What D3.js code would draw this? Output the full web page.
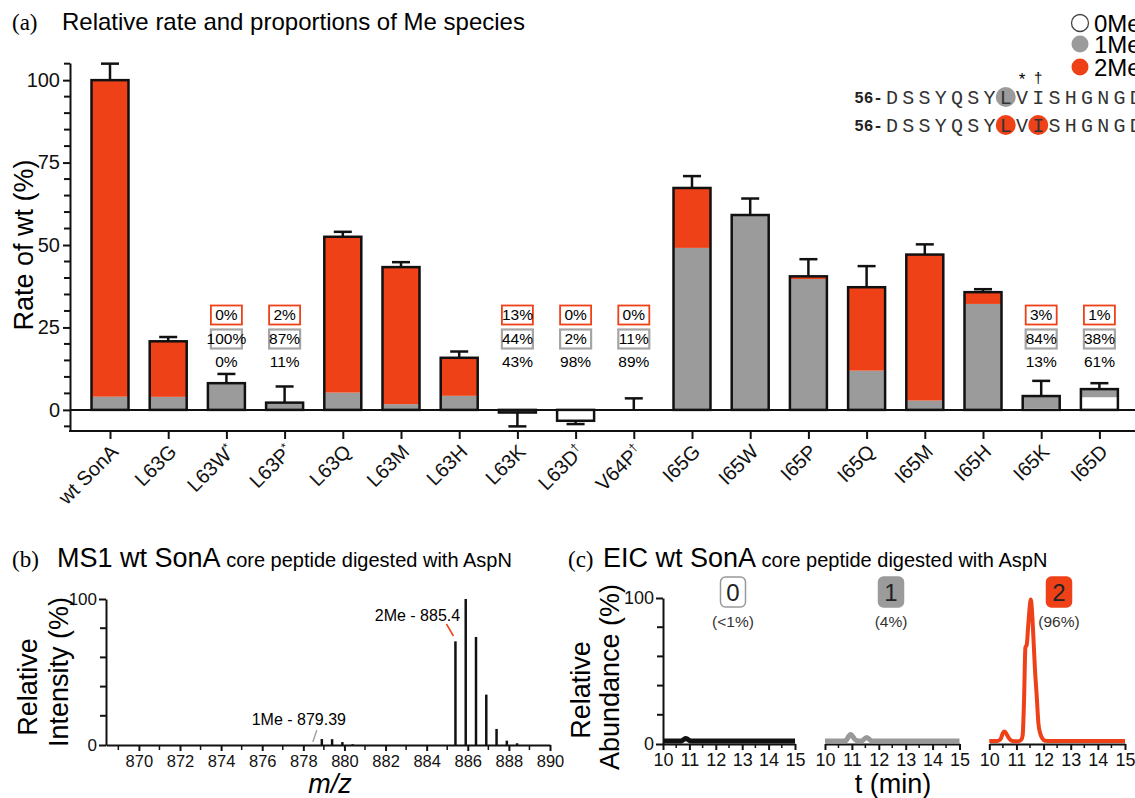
<!DOCTYPE html>
<html lang="en">
<head>
<meta charset="utf-8">
<title>Relative rate and proportions of Me species</title>
<style>
  body { margin: 0; background: #fff; }
  svg { display: block; font-family: "Liberation Sans", Arial, sans-serif; }
  .serif { font-family: "Liberation Serif", "Times New Roman", serif; }
  .axis path, .axis line { stroke: #111; stroke-width: 2; }
  .axis text { fill: #111; }
</style>
<script src="https://cdn.jsdelivr.net/npm/d3@7"></script>
</head>
<body>
<svg id="fig" width="1135" height="798"></svg>
<script>
// ---------- panel (a) data ----------
var mutants = ["wt SonA","L63G","L63W*","L63P*","L63Q","L63M","L63H","L63K","L63D†","V64P†",
               "I65G","I65W","I65P","I65Q","I65M","I65H","I65K","I65D"];
// rate of wt (%), bar height
var rate    = [100, 20.8, 8.1, 2.2, 52.5, 43.3, 15.8, -0.8, -3.3, 0, 67.3, 59.1, 40.5, 37.2, 47.1, 35.7, 4.2, 6.3];
// end of the error bar (%)
var rateErr = [105, 22.1, 10.9, 7.1, 54.0, 44.8, 17.7, -5.0, -4.3, 3.5, 70.9, 64.1, 45.7, 43.6, 50.2, 36.6, 8.8, 8.1];
// proportions of each species (%)
var pct0Me = [0, 0, 0, 11, 0, 0, 0, 43, 98, 89, 0, 0, 0, 0, 0, 0, 13, 61];
var pct1Me = [4, 19, 100, 87, 10, 4, 27, 44, 2, 11, 73, 100, 98, 32, 6, 90, 84, 38];
var pct2Me = [96, 81, 0, 2, 90, 96, 73, 13, 0, 0, 27, 0, 2, 68, 94, 10, 3, 1];
// mutants with the printed proportions
var labelled = ["L63W*","L63P*","L63K","L63D†","V64P†","I65K","I65D"];

var legendNames = ["0Me","1Me","2Me"];
var seqPrefix = "56-";
var seqLetters = "DSSYQSYLVISHGNGD";

// ---------- panel (b) data ----------
var mzPeaks     = [878.9, 879.4, 879.9, 880.4, 885.4, 885.9, 886.4, 886.9, 887.4, 887.9, 888.4];
var mzIntensity = [4.1, 4.0, 2.0, 0.5, 71, 100, 74, 34.5, 11, 3, 1.2];

// ---------- panel (c) data ----------
var eic0Me = [[10,2],[10.7,2],[10.78,3],[10.86,3.8],[10.95,3],[11.05,2],[15,2]];
var eic1Me = [[10,2],[10.75,2],[10.95,6.5],[11.15,2.5],[11.35,2],[11.55,4.5],[11.75,2],[15,2]];
var eic2Me = [[10,2],[10.3,2],[10.42,3.5],[10.5,7.5],[10.56,8.5],[10.63,7],[10.72,4],[10.85,2],
              [11.05,1.8],[11.18,3],[11.23,6],[11.28,30],[11.33,66],[11.38,68],[11.43,80],[11.48,92],
              [11.53,99],[11.57,92],[11.62,75],[11.68,52],[11.75,32],[11.81,14],[11.88,7],[11.95,4],
              [12.05,2.3],[12.3,2],[15,2]];
var eicShare = ["(<1%)","(4%)","(96%)"];

var red = "#ef4118", grey = "#9b9b9b", ink = "#111";
var speciesFill = ["#fff", grey, red];

var svg = d3.select("#fig");

// ================= panel (a) =================
var gA = svg.append("g");
var ya = d3.scaleLinear().domain([-6.1, 105.2]).range([430, 63]);
var xa = d3.scalePoint().domain(mutants).range([110, 1099.4]);
var barW = 37;

gA.append("text").attr("class","serif").attr("x",12).attr("y",30).attr("font-size",23).text("(a)");
gA.append("text").attr("x",62).attr("y",30).attr("font-size",24).text("Relative rate and proportions of Me species");

// zero line across the plot
gA.append("line").attr("x1",70).attr("x2",1135).attr("y1",ya(0)).attr("y2",ya(0))
  .attr("stroke",ink).attr("stroke-width",2);

var rows = mutants.map(function(m, i){
  return {name: m, rate: rate[i], err: rateErr[i], p: [pct0Me[i], pct1Me[i], pct2Me[i]]};
});

// stacked segments, 0Me at the bottom, then 1Me, then 2Me
rows.forEach(function(d){
  var tot = d.p[0] + d.p[1] + d.p[2], acc = 0;
  d.p.forEach(function(p, k){
    var a = d.rate * acc / tot, b = d.rate * (acc + p) / tot;
    acc += p;
    if (p <= 0) return;
    gA.append("rect")
      .attr("x", xa(d.name) - barW/2).attr("width", barW)
      .attr("y", ya(Math.max(a,b))).attr("height", Math.abs(ya(a) - ya(b)))
      .attr("fill", speciesFill[k]);
  });
});

// error bars
var errG = gA.selectAll(".err").data(rows).enter().append("g").attr("class","err")
  .attr("stroke", ink).attr("stroke-width", 2.5);
errG.append("line")
  .attr("x1", d => xa(d.name)).attr("x2", d => xa(d.name))
  .attr("y1", d => ya(d.rate)).attr("y2", d => ya(d.err));
errG.append("line")
  .attr("x1", d => xa(d.name) - 9).attr("x2", d => xa(d.name) + 9)
  .attr("y1", d => ya(d.err)).attr("y2", d => ya(d.err));

// bar outlines
gA.selectAll(".bar").data(rows.filter(d => Math.abs(d.rate) > 0.05)).enter().append("rect")
  .attr("class","bar")
  .attr("x", d => xa(d.name) - barW/2).attr("width", barW)
  .attr("y", d => ya(Math.max(0, d.rate))).attr("height", d => Math.abs(ya(0) - ya(d.rate)))
  .attr("fill","none").attr("stroke", ink).attr("stroke-width", 2.5);

// printed proportions
var lab = gA.selectAll(".lab").data(rows.filter(d => labelled.indexOf(d.name) >= 0)).enter()
  .append("g").attr("class","lab").attr("transform", d => "translate(" + xa(d.name) + ",0)");
lab.append("rect").attr("x",-15.5).attr("y",305.5).attr("width",31).attr("height",19)
  .attr("fill","#fff").attr("stroke",red).attr("stroke-width",1.8);
lab.append("rect").attr("x",-15.5).attr("y",329.5).attr("width",31).attr("height",19)
  .attr("fill","#fff").attr("stroke","#a5a5a5").attr("stroke-width",2.2);
lab.append("text").attr("y",315).attr("dy","0.35em").attr("text-anchor","middle").attr("font-size",15.5)
  .text(d => d.p[2] + "%");
lab.append("text").attr("y",339).attr("dy","0.35em").attr("text-anchor","middle").attr("font-size",15.5)
  .text(d => d.p[1] + "%");
lab.append("text").attr("y",362).attr("dy","0.35em").attr("text-anchor","middle").attr("font-size",15.5)
  .text(d => d.p[0] + "%");

// y axis
var yAxA = gA.append("g").attr("class","axis").attr("transform","translate(70,0)")
  .call(d3.axisLeft(ya).tickValues([0,25,50,75,100]).tickSize(7).tickSizeOuter(0).tickPadding(3));
yAxA.selectAll("text").attr("font-size",20);
gA.selectAll(".minorA").data(d3.range(-5, 106, 5).filter(v => v % 25 !== 0)).enter().append("line")
  .attr("x1",64).attr("x2",70).attr("y1", d => ya(d)).attr("y2", d => ya(d))
  .attr("stroke",ink).attr("stroke-width",2);
gA.append("text").attr("transform","translate(33,245) rotate(-90)").attr("text-anchor","middle")
  .attr("font-size",27).text("Rate of wt (%)");

// x axis
var xAxA = gA.append("g").attr("class","axis").attr("transform","translate(0,431)")
  .call(d3.axisBottom(xa).tickSize(8).tickSizeOuter(0));
xAxA.select(".domain").remove();
xAxA.append("line").attr("x1",69).attr("x2",1135).attr("stroke",ink).attr("stroke-width",2);
xAxA.selectAll(".tick text")
  .attr("x", null).attr("y", null).attr("dy","0.35em")
  .attr("transform","translate(4,17) rotate(-45)")
  .style("text-anchor","end").attr("font-size",20)
  .each(function(d){
    var t = d3.select(this).text("");
    var base = d.replace(/[*†]$/, "");
    t.append("tspan").text(base);
    if (base !== d) t.append("tspan").attr("baseline-shift","super").attr("font-size",12).text(d.slice(-1));
  });

// legend
var leg = gA.selectAll(".leg").data(legendNames).enter().append("g").attr("class","leg")
  .attr("transform", (d,i) => "translate(1080," + [23, 44, 67][i] + ")");
leg.append("circle").attr("r",8.5).attr("fill", (d,i) => speciesFill[i])
  .attr("stroke", (d,i) => i === 0 ? "#444" : "none").attr("stroke-width",1.3);
leg.append("text").attr("x",14).attr("dy","0.36em").attr("font-size",24).text(d => d);

// peptide sequence
var seqX = k => 892 + k * 16.25;
[{y: 97, marks: [[7, grey]]}, {y: 125, marks: [[7, red], [9, red]]}].forEach(function(row){
  row.marks.forEach(function(m){
    gA.append("circle").attr("cx", seqX(m[0])).attr("cy", row.y).attr("r", 10).attr("fill", m[1]);
  });
  seqPrefix.split("").forEach(function(c, k){
    gA.append("text").attr("x", 859 + k * 9.5).attr("y", row.y).attr("dy","0.36em")
      .attr("text-anchor","middle").attr("font-size",16).attr("font-weight","bold")
      .attr("font-family","Liberation Mono, monospace").attr("fill","#222").text(c);
  });
  seqLetters.split("").forEach(function(c, k){
    gA.append("text").attr("x", seqX(k)).attr("y", row.y).attr("dy","0.36em")
      .attr("text-anchor","middle").attr("font-size",20)
      .attr("font-family","Liberation Mono, monospace").attr("fill","#333").text(c);
  });
});
gA.append("text").attr("x", seqX(8)).attr("y", 85).attr("text-anchor","middle").attr("font-size",17).text("*");
gA.append("text").attr("x", seqX(9)).attr("y", 83).attr("text-anchor","middle").attr("font-size",15).text("†");

// ================= panel (b) =================
var gB = svg.append("g");
var xb = d3.scaleLinear().domain([868.4, 890]).range([106, 550]);
var yb = d3.scaleLinear().domain([0, 100]).range([745, 599]);

var tB = gB.append("text").attr("x",12).attr("y",567);
tB.append("tspan").attr("class","serif").attr("font-size",23).text("(b)");
tB.append("tspan").attr("x",57).attr("font-size",27).text("MS1 wt SonA");
tB.append("tspan").attr("font-size",20).text(" core peptide digested with AspN");

gB.selectAll(".pk").data(mzPeaks).enter().append("line")
  .attr("x1", d => xb(d)).attr("x2", d => xb(d))
  .attr("y1", yb(0)).attr("y2", (d,i) => yb(mzIntensity[i]))
  .attr("stroke", ink).attr("stroke-width", 2.5);

var yAxB = gB.append("g").attr("class","axis").attr("transform","translate(106,0)")
  .call(d3.axisLeft(yb).tickValues([0,100]).tickSize(7).tickSizeOuter(0).tickPadding(2));
yAxB.selectAll("text").attr("font-size",17);
gB.selectAll(".minorB").data([20,40,60,80]).enter().append("line")
  .attr("x1",100).attr("x2",106).attr("y1", d => yb(d)).attr("y2", d => yb(d))
  .attr("stroke",ink).attr("stroke-width",2);

var xAxB = gB.append("g").attr("class","axis").attr("transform","translate(0,745)")
  .call(d3.axisBottom(xb).tickValues(d3.range(870, 891, 2)).tickSize(6).tickSizeOuter(0).tickPadding(4));
xAxB.selectAll("text").attr("font-size",16.5);
gB.selectAll(".minorBx").data(d3.range(869, 890, 2)).enter().append("line")
  .attr("x1", d => xb(d)).attr("x2", d => xb(d)).attr("y1",745).attr("y2",750)
  .attr("stroke",ink).attr("stroke-width",1.5);

// peak annotations
var p2 = xb(885.4), p1 = xb(878.9);
gB.append("text").attr("x", p2 - 38).attr("y", 615).attr("dy","0.35em").attr("text-anchor","middle")
  .attr("font-size",16).text("2Me - 885.4");
gB.append("line").attr("x1", p2 - 9).attr("y1", 624).attr("x2", p2 - 2).attr("y2", 636)
  .attr("stroke", red).attr("stroke-width", 1.5);
gB.append("text").attr("x", p1 - 23).attr("y", 719).attr("dy","0.35em").attr("text-anchor","middle")
  .attr("font-size",16).text("1Me - 879.39");
gB.append("line").attr("x1", p1 - 5).attr("y1", 730).attr("x2", p1 - 9).attr("y2", 742)
  .attr("stroke", "#999").attr("stroke-width", 1.3);

gB.append("text").attr("transform","translate(28,687) rotate(-90)").attr("text-anchor","middle")
  .attr("dy","0.35em").attr("font-size",27).text("Relative");
gB.append("text").attr("transform","translate(59,672) rotate(-90)").attr("text-anchor","middle")
  .attr("dy","0.35em").attr("font-size",27).text("Intensity (%)");
gB.append("text").attr("x",330).attr("y",793).attr("text-anchor","middle").attr("font-size",27)
  .attr("font-style","italic").text("m/z");

// ================= panel (c) =================
var gC = svg.append("g");
var yc = d3.scaleLinear().domain([0, 100]).range([744, 598]);

var tC = gC.append("text").attr("x",568).attr("y",567);
tC.append("tspan").attr("class","serif").attr("font-size",23).text("(c)");
tC.append("tspan").attr("x",603).attr("font-size",27).text("EIC wt SonA");
tC.append("tspan").attr("font-size",20).text(" core peptide digested with AspN");

var eicPanels = [
  {x0: 663, x1: 795, data: eic0Me, color: ink, w: 5, box: "#fff", boxStroke: "#999"},
  {x0: 825, x1: 959.5, data: eic1Me, color: "#999", w: 5, box: grey, boxStroke: grey},
  {x0: 989.3, x1: 1125, data: eic2Me, color: red, w: 4, box: red, boxStroke: red}
];

eicPanels.forEach(function(p, i){
  var xc = d3.scaleLinear().domain([10, 15]).range([p.x0, p.x1]);
  var xAx = gC.append("g").attr("class","axis").attr("transform","translate(0,744)")
    .call(d3.axisBottom(xc).tickValues(d3.range(10, 16)).tickFormat(d3.format("d"))
      .tickSize(6).tickSizeOuter(0).tickPadding(3));
  xAx.selectAll("text").attr("font-size",18);
  gC.selectAll(".mc" + i).data(d3.range(10.5, 15, 1)).enter().append("line")
    .attr("x1", d => xc(d)).attr("x2", d => xc(d)).attr("y1",744).attr("y2",748)
    .attr("stroke",ink).attr("stroke-width",1.5);
  gC.append("path").datum(p.data)
    .attr("d", d3.line().x(d => xc(d[0])).y(d => yc(d[1])).curve(d3.curveMonotoneX))
    .attr("fill","none").attr("stroke", p.color).attr("stroke-width", p.w)
    .attr("stroke-linejoin","round");
  var cx = [733, 891, 1059][i];
  gC.append("rect").attr("x", cx - 12.5).attr("y", 577).attr("width",25).attr("height",30).attr("rx",5)
    .attr("fill", p.box).attr("stroke", p.boxStroke).attr("stroke-width",1.5);
  gC.append("text").attr("x", cx).attr("y", 592).attr("dy","0.36em").attr("text-anchor","middle")
    .attr("font-size",24).attr("fill","#222").text(String(i));
  gC.append("text").attr("x", cx).attr("y", 622).attr("dy","0.35em").attr("text-anchor","middle")
    .attr("font-size",15.5).attr("fill","#333").text(eicShare[i]);
});

var yAxC = gC.append("g").attr("class","axis").attr("transform","translate(663,0)")
  .call(d3.axisLeft(yc).tickValues([0,100]).tickSize(7).tickSizeOuter(0).tickPadding(2));
yAxC.selectAll("text").attr("font-size",18);
gC.selectAll(".minorC").data([20,40,60,80]).enter().append("line")
  .attr("x1",657).attr("x2",663).attr("y1", d => yc(d)).attr("y2", d => yc(d))
  .attr("stroke",ink).attr("stroke-width",2);

gC.append("text").attr("transform","translate(581,690) rotate(-90)").attr("text-anchor","middle")
  .attr("dy","0.35em").attr("font-size",27).text("Relative");
gC.append("text").attr("transform","translate(610,677) rotate(-90)").attr("text-anchor","middle")
  .attr("dy","0.35em").attr("font-size",27).text("Abundance (%)");
gC.append("text").attr("x",893).attr("y",793).attr("text-anchor","middle").attr("font-size",27)
  .text("t (min)");
</script>
</body>
</html>
